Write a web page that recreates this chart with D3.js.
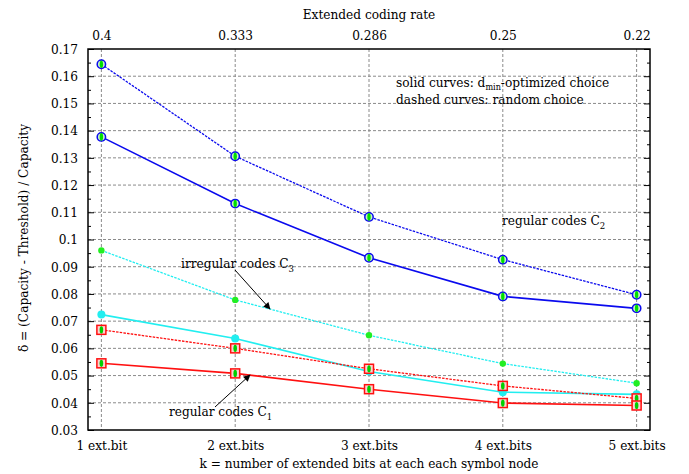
<!DOCTYPE html>
<html><head><meta charset="utf-8">
<script src="https://cdn.jsdelivr.net/npm/d3@7"></script>
<style>body{margin:0;background:#fff}svg{display:block}</style>
</head><body>
<svg id="c" width="689" height="474"></svg>
<script>
const kValues = [1, 2, 3, 4, 5];
const bottomLabels = ["1 ext.bit", "2 ext.bits", "3 ext.bits", "4 ext.bits", "5 ext.bits"];
const topLabels = ["0.4", "0.333", "0.286", "0.25", "0.22"];
const yTicks = [0.03,0.04,0.05,0.06,0.07,0.08,0.09,0.1,0.11,0.12,0.13,0.14,0.15,0.16,0.17];

const c2Random = [0.1644, 0.1306, 0.1083, 0.0926, 0.0797];
const c2Optimized = [0.1377, 0.1132, 0.0933, 0.0791, 0.0747];
const c3Random = [0.0960, 0.0778, 0.0648, 0.0544, 0.0472];
const c3Optimized = [0.0724, 0.0636, 0.0515, 0.0439, 0.0431];
const c1Random = [0.0668, 0.0600, 0.0525, 0.0462, 0.0416];
const c1Optimized = [0.0545, 0.0508, 0.0450, 0.0399, 0.0390];

const series = [
  {v: c2Random, color: "#0a0aee", dash: "2.5,1.2", mark: "circ"},
  {v: c2Optimized, color: "#0a0aee", dash: null, mark: "circ"},
  {v: c3Random, color: "#22eef0", dash: "2.5,1.2", mark: "green"},
  {v: c3Optimized, color: "#22eef0", dash: null, mark: "cyan"},
  {v: c1Random, color: "#ff1010", dash: "2.5,1.2", mark: "sq"},
  {v: c1Optimized, color: "#ff1010", dash: null, mark: "sq"}
];

const FONT = "'DejaVu Serif Condensed', 'DejaVu Serif'";
const FS = 13.5;
const L = 88, R = 650, T = 49, B = 430;
const svg = d3.select("#c").attr("font-family", FONT);
const x = d3.scaleLinear().domain([0.9, 5.1]).range([L, R]);
const y = d3.scaleLinear().domain([0.03, 0.17]).range([B, T]);

const g = svg.append("g");
yTicks.slice(1, -1).forEach(t => g.append("line").attr("x1", L).attr("x2", R).attr("y1", y(t)).attr("y2", y(t))
  .attr("stroke", "#8a8a8a").attr("stroke-width", 1).attr("stroke-dasharray", "3,2"));
kValues.forEach(k => g.append("line").attr("x1", x(k)).attr("x2", x(k)).attr("y1", T).attr("y2", B)
  .attr("stroke", "#8a8a8a").attr("stroke-width", 1).attr("stroke-dasharray", "3,2"));

const fmt = d => String(+d.toFixed(2));
const yLeft = d3.axisLeft(y).tickValues(yTicks).tickSize(-6).tickPadding(10).tickFormat(fmt);
const yRight = d3.axisRight(y).tickValues(yTicks).tickSize(-6).tickFormat("");
const yMinor = d3.range(0.035, 0.17, 0.01);
svg.append("g").attr("transform", `translate(${L},0)`).call(yLeft);
svg.append("g").attr("transform", `translate(${L},0)`).call(d3.axisLeft(y).tickValues(yMinor).tickSize(-3).tickFormat(""));
svg.append("g").attr("transform", `translate(${R},0)`).call(yRight);
svg.append("g").attr("transform", `translate(${R},0)`).call(d3.axisRight(y).tickValues(yMinor).tickSize(-3).tickFormat(""));

const xb = d3.axisBottom(x).tickValues(kValues).tickSize(0).tickPadding(10).tickFormat((d, i) => bottomLabels[i]);
svg.append("g").attr("transform", `translate(0,${B})`).call(xb);
const xt = d3.axisTop(x).tickValues(kValues).tickSize(0).tickPadding(9).tickFormat((d, i) => topLabels[i]);
svg.append("g").attr("transform", `translate(0,${T})`).call(xt);
svg.selectAll("g").attr("font-family", FONT).attr("font-size", FS);
svg.selectAll(".tick text").attr("fill", "#000");
svg.selectAll(".domain").remove();
svg.selectAll(".tick line").attr("stroke", "#000");

svg.append("rect").attr("x", L).attr("y", T).attr("width", R - L).attr("height", B - T)
  .attr("fill", "none").attr("stroke", "#000").attr("stroke-width", 1.5);

const line = d3.line().x((d, i) => x(kValues[i])).y(d => y(d));
series.forEach(s => {
  svg.append("path").datum(s.v).attr("d", line).attr("fill", "none").attr("stroke", s.color)
    .attr("stroke-width", s.dash ? 1.3 : 1.6).attr("stroke-dasharray", s.dash);
});
series.forEach(s => {
  s.v.forEach((v, i) => {
    const cx = x(kValues[i]), cy = y(v);
    if (s.mark === "circ") {
      svg.append("circle").attr("cx", cx).attr("cy", cy).attr("r", 4.2).attr("fill", "#c8f0c8").attr("stroke", s.color).attr("stroke-width", 1.5);
      svg.append("ellipse").attr("cx", cx).attr("cy", cy).attr("rx", 1.7).attr("ry", 3.8).attr("fill", "#00e000");
    } else if (s.mark === "green") {
      svg.append("circle").attr("cx", cx).attr("cy", cy).attr("r", 3.2).attr("fill", "#22ee22");
    } else if (s.mark === "cyan") {
      svg.append("circle").attr("cx", cx).attr("cy", cy).attr("r", 4).attr("fill", "#22eef0");
    } else {
      svg.append("rect").attr("x", cx - 4.5).attr("y", cy - 4.5).attr("width", 9).attr("height", 9)
        .attr("fill", "#ffd0d0").attr("stroke", s.color).attr("stroke-width", 1.5);
      svg.append("ellipse").attr("cx", cx).attr("cy", cy).attr("rx", 1.8).attr("ry", 3.6).attr("fill", "#00d000");
    }
  });
});

const txt = (xx, yy) => svg.append("text").attr("x", xx).attr("y", yy).attr("font-size", FS).attr("font-family", FONT).attr("fill", "#000");
txt(369, 19).attr("text-anchor", "middle").text("Extended coding rate");
txt(369, 468).attr("text-anchor", "middle").text("k = number of extended bits at each each symbol node");
txt(0, 0).attr("transform", "translate(28,238) rotate(-90)").attr("text-anchor", "middle")
  .text("δ = (Capacity - Threshold) / Capacity");

const t1 = txt(396, 87);
t1.append("tspan").text("solid curves: d");
t1.append("tspan").attr("font-size", 9).attr("dy", 3).text("min");
t1.append("tspan").attr("dy", -3).text("-optimized choice");
txt(396, 104).text("dashed curves: random choice");

function sub(xx, yy, main, s) {
  const t = txt(xx, yy);
  t.append("tspan").text(main);
  t.append("tspan").attr("font-size", 9.5).attr("dy", 4).text(s);
}
sub(502, 225, "regular codes C", "2");
sub(181, 268, "irregular codes C", "3");
sub(169, 416, "regular codes C", "1");

svg.append("defs").append("marker").attr("id", "ah").attr("viewBox", "0 0 10 10").attr("refX", 9).attr("refY", 5)
  .attr("markerWidth", 9).attr("markerHeight", 7).attr("orient", "auto").attr("markerUnits", "userSpaceOnUse")
  .append("path").attr("d", "M0,0 L10,5 L0,10 z").attr("fill", "#000");
svg.append("line").attr("x1", 235).attr("y1", 270).attr("x2", 270).attr("y2", 309)
  .attr("stroke", "#000").attr("stroke-width", 1).attr("marker-end", "url(#ah)");
svg.append("line").attr("x1", 215).attr("y1", 407).attr("x2", 250).attr("y2", 375)
  .attr("stroke", "#000").attr("stroke-width", 1).attr("marker-end", "url(#ah)");
</script>
</body></html>
